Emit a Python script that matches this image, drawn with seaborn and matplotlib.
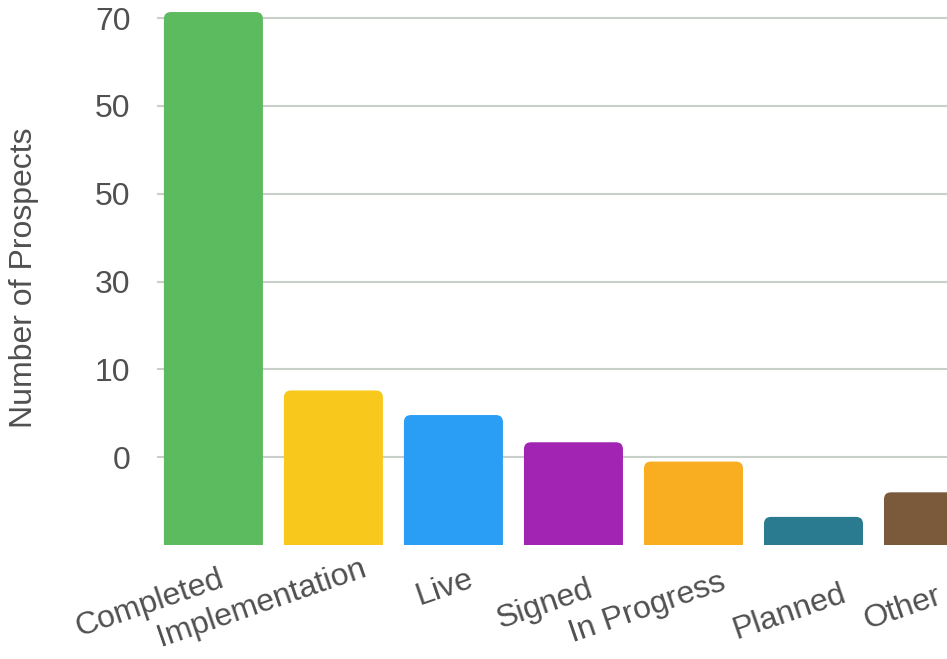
import matplotlib
matplotlib.use("Agg")
import matplotlib.pyplot as plt
import matplotlib.transforms as mtransforms
from matplotlib.patches import FancyBboxPatch
import seaborn as sns

# ---- data ----
categories = ["Completed", "Implementation", "Live", "Signed", "In Progress", "Planned", "Other"]
values = [60.7, 17.6, 14.8, 11.7, 9.5, 3.2, 6.0]
colors = ["#5DBB5F", "#F9C81D", "#2A9EF4", "#A224B2", "#F9AE22", "#2A7A90", "#7A5A3A"]
tick_values = [10, 20, 30, 40, 50, 60]
tick_labels = ["0", "10", "30", "50", "50", "70"]
y_label = "Number of Prospects"

# label placement nudges (pixels), style only
label_dx = [5, 27, 14, 14, 26, 27, 2]
label_dy = [0, 11, 0, -10, -3, -15, -17]

sns.set_theme(style="white")
plt.rcParams["font.family"] = ["Liberation Sans", "DejaVu Sans"]
text_color = "#505050"

fig = plt.figure(figsize=(9.47, 6.59), dpi=100)
ax = fig.add_axes([157 / 947, 114 / 659, 790 / 947, 535.6 / 659])

sns.barplot(x=categories, y=values, hue=categories, palette=colors,
            saturation=1, legend=False, width=0.825, ax=ax, zorder=3)

# rounded tops
radius_x = 0.058
aspect = 13.7
for p in list(ax.patches):
    x, w, h = p.get_x(), p.get_width(), p.get_height()
    fc = p.get_facecolor()
    p.remove()
    fb = FancyBboxPatch((x, -3), w, h + 3,
                        boxstyle=f"round,pad=0,rounding_size={radius_x}",
                        mutation_aspect=aspect, fc=fc, ec="none", zorder=3)
    ax.add_patch(fb)

ax.set_xlim(-0.47, 6.1125)
ax.set_ylim(0, 61)
ax.set_yticks(tick_values)
ax.set_yticklabels(tick_labels)
ax.yaxis.grid(True, color="#c9cfc9", linewidth=1.5, zorder=0)
ax.xaxis.grid(False)
ax.set_axisbelow(True)
for s in ax.spines.values():
    s.set_visible(False)

ax.tick_params(axis="y", length=0, pad=19, labelsize=23, labelcolor=text_color)
ax.tick_params(axis="x", length=0, pad=14, labelsize=23, labelcolor=text_color)

for lab, dx, dy in zip(ax.get_xticklabels(), label_dx, label_dy):
    lab.set_rotation(19)
    lab.set_ha("right")
    lab.set_va("top")
    lab.set_rotation_mode("anchor")
    off = mtransforms.ScaledTranslation(dx / 100, dy / 100, fig.dpi_scale_trans)
    lab.set_transform(lab.get_transform() + off)

ax.set_xlabel("")
ax.set_ylabel(y_label, fontsize=23, color=text_color)
ax.yaxis.label.set_va("center")
ax.yaxis.set_label_coords((24 - 157) / 790, (545 - 278) / 535.6)

fig.savefig("out.png", dpi=100)
